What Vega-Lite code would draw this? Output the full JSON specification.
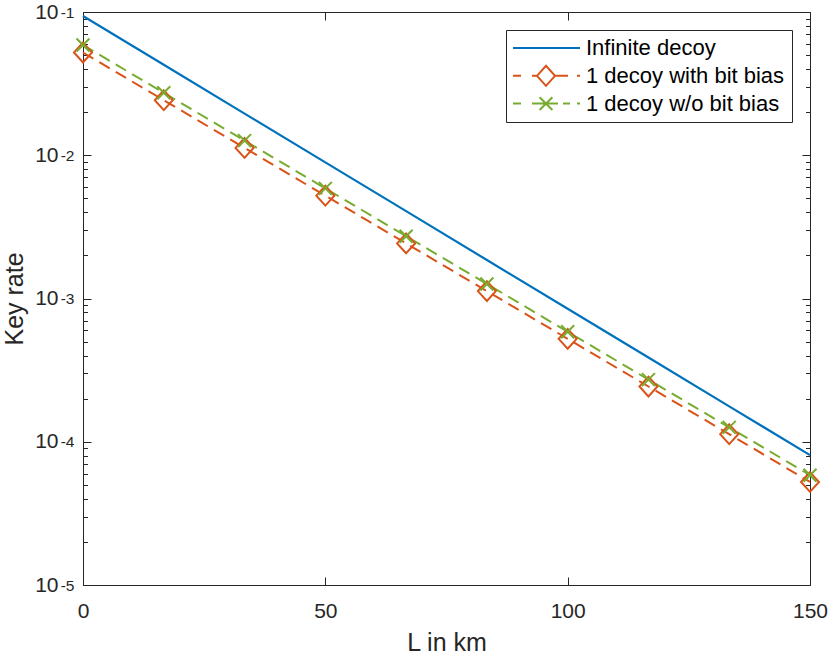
{
  "$schema": "https://vega.github.io/schema/vega-lite/v6.json",
  "width": 727,
  "height": 573,
  "autosize": {"type": "none"},
  "padding": {"left": 83, "top": 12, "right": 20, "bottom": 69},
  "background": "white",
  "config": {
    "font": "Liberation Sans",
    "view": {"stroke": "#262626", "strokeWidth": 1},
    "axis": {"grid": false, "domain": false, "labelColor": "#262626", "titleColor": "#262626", "tickColor": "#262626", "tickWidth": 1, "labelFont": "Liberation Sans", "titleFont": "Liberation Sans", "titleFontWeight": "normal"},
    "legend": {"labelFont": "Liberation Sans", "fillColor": "white", "strokeColor": "#262626", "strokeWidth": 1, "padding": 7, "rowPadding": 2.8,
      "symbolSize": 64, "symbolStrokeWidth": 2, "symbolOffset": 22, "labelOffset": 29, "labelFontSize": 22, "labelColor": "#000000", "labelLimit": 400}
  },
  "data": {
    "values": [
      {"L": 0, "rate": 0.0938, "series": "Infinite decoy"},
      {"L": 16.667, "rate": 0.04279, "series": "Infinite decoy"},
      {"L": 33.333, "rate": 0.01952, "series": "Infinite decoy"},
      {"L": 50, "rate": 0.008922, "series": "Infinite decoy"},
      {"L": 66.667, "rate": 0.004071, "series": "Infinite decoy"},
      {"L": 83.333, "rate": 0.001857, "series": "Infinite decoy"},
      {"L": 100, "rate": 0.000848, "series": "Infinite decoy"},
      {"L": 116.667, "rate": 0.0003873, "series": "Infinite decoy"},
      {"L": 133.333, "rate": 0.0001767, "series": "Infinite decoy"},
      {"L": 150, "rate": 0.0000806, "series": "Infinite decoy"},
      {"L": 0, "rate": 0.05215, "series": "1 decoy with bit bias"},
      {"L": 16.667, "rate": 0.02422, "series": "1 decoy with bit bias"},
      {"L": 33.333, "rate": 0.01125, "series": "1 decoy with bit bias"},
      {"L": 50, "rate": 0.005222, "series": "1 decoy with bit bias"},
      {"L": 66.667, "rate": 0.002425, "series": "1 decoy with bit bias"},
      {"L": 83.333, "rate": 0.001126, "series": "1 decoy with bit bias"},
      {"L": 100, "rate": 0.000523, "series": "1 decoy with bit bias"},
      {"L": 116.667, "rate": 0.000243, "series": "1 decoy with bit bias"},
      {"L": 133.333, "rate": 0.0001129, "series": "1 decoy with bit bias"},
      {"L": 150, "rate": 0.0000524, "series": "1 decoy with bit bias"},
      {"L": 0, "rate": 0.0588, "series": "1 decoy w/o bit bias"},
      {"L": 16.667, "rate": 0.02728, "series": "1 decoy w/o bit bias"},
      {"L": 33.333, "rate": 0.01265, "series": "1 decoy w/o bit bias"},
      {"L": 50, "rate": 0.005871, "series": "1 decoy w/o bit bias"},
      {"L": 66.667, "rate": 0.002723, "series": "1 decoy w/o bit bias"},
      {"L": 83.333, "rate": 0.001263, "series": "1 decoy w/o bit bias"},
      {"L": 100, "rate": 0.000586, "series": "1 decoy w/o bit bias"},
      {"L": 116.667, "rate": 0.0002715, "series": "1 decoy w/o bit bias"},
      {"L": 133.333, "rate": 0.000126, "series": "1 decoy w/o bit bias"},
      {"L": 150, "rate": 0.0000584, "series": "1 decoy w/o bit bias"}
    ]
  },
  "resolve": {"axis": {"x": "independent", "y": "independent"}},
  "layer": [
    {
      "transform": [{"filter": "datum.series === 'Infinite decoy'"}],
      "mark": {"type": "line", "color": "#0072BD", "strokeWidth": 2.2, "strokeCap": "butt"},
      "encoding": {
        "x": {"field": "L", "type": "quantitative", "scale": {"domain": [0, 150], "nice": false, "zero": false},
          "axis": {"orient": "bottom", "title": "L in km", "values": [0, 50, 100, 150], "ticks": false, "labelFontSize": 21, "labelPadding": 15, "labelFlush": false, "labelOverlap": false, "titleFontSize": 25, "titlePadding": 9}},
        "y": {"field": "rate", "type": "quantitative", "scale": {"type": "log", "domain": [0.00001, 0.1], "nice": false},
          "axis": {"orient": "left", "title": "Key rate", "values": [0.00001, 0.0001, 0.001, 0.01, 0.1], "ticks": false, "labelFontSize": 21, "labelPadding": 25, "labelDy": 4.5, "titleFontSize": 25, "titlePadding": 7.5,
            "labelExpr": "'10'"}}
      }
    },
    {
      "transform": [{"filter": "datum.series === '1 decoy with bit bias'"}],
      "mark": {"type": "line", "color": "#D95319", "strokeWidth": 2, "strokeDash": [12, 7], "strokeCap": "butt"},
      "encoding": {
        "x": {"field": "L", "type": "quantitative", "axis": {"orient": "top", "title": null, "values": [0, 50, 100, 150], "labels": false, "tickSize": -8}},
        "y": {"field": "rate", "type": "quantitative", "axis": {"orient": "right", "title": null, "values": [0.00001, 0.0001, 0.001, 0.01, 0.1], "labels": false, "tickSize": -8}}
      }
    },
    {
      "transform": [{"filter": "datum.series === '1 decoy w/o bit bias'"}],
      "mark": {"type": "line", "color": "#77AC30", "strokeWidth": 2, "strokeDash": [12, 7], "strokeCap": "butt"},
      "encoding": {
        "x": {"field": "L", "type": "quantitative", "axis": {"orient": "bottom", "title": null, "values": [0, 50, 100, 150], "labels": false, "tickSize": -8}},
        "y": {"field": "rate", "type": "quantitative", "axis": {"orient": "left", "title": null, "values": [0.00001, 0.0001, 0.001, 0.01, 0.1], "labels": false, "tickSize": -8}}
      }
    },
    {
      "transform": [{"filter": "datum.series === '1 decoy with bit bias'"}],
      "mark": {"type": "point", "shape": "M0,-1.1L1,0L0,1.1L-1,0Z", "size": 324, "filled": false, "color": "#D95319", "strokeWidth": 2, "opacity": 1},
      "encoding": {
        "x": {"field": "L", "type": "quantitative", "axis": null},
        "y": {"field": "rate", "type": "quantitative", "axis": {"orient": "left", "title": null, "labels": false, "tickSize": -4.5,
          "values": [0.00002, 0.00003, 0.00004, 0.00005, 0.00006, 0.00007, 0.00008, 0.00009, 0.0002, 0.0003, 0.0004, 0.0005, 0.0006, 0.0007, 0.0008, 0.0009, 0.002, 0.003, 0.004, 0.005, 0.006, 0.007, 0.008, 0.009, 0.02, 0.03, 0.04, 0.05, 0.06, 0.07, 0.08, 0.09]}}
      }
    },
    {
      "transform": [{"filter": "datum.series === '1 decoy w/o bit bias'"}],
      "mark": {"type": "point", "shape": "M-1,-1L1,1M-1,1L1,-1", "size": 169, "filled": false, "color": "#77AC30", "strokeWidth": 2, "opacity": 1},
      "encoding": {
        "x": {"field": "L", "type": "quantitative", "axis": null},
        "y": {"field": "rate", "type": "quantitative", "axis": {"orient": "right", "title": null, "labels": false, "tickSize": -4.5,
          "values": [0.00002, 0.00003, 0.00004, 0.00005, 0.00006, 0.00007, 0.00008, 0.00009, 0.0002, 0.0003, 0.0004, 0.0005, 0.0006, 0.0007, 0.0008, 0.0009, 0.002, 0.003, 0.004, 0.005, 0.006, 0.007, 0.008, 0.009, 0.02, 0.03, 0.04, 0.05, 0.06, 0.07, 0.08, 0.09]}}
      }
    },
    {
      "transform": [{"filter": "datum.L < 0"}],
      "mark": {"type": "point", "filled": false, "strokeWidth": 2, "opacity": 1},
      "encoding": {
        "x": {"field": "L", "type": "quantitative", "axis": null},
        "y": {"field": "rate", "type": "quantitative", "axis": {"orient": "left", "title": null, "values": [0.00001, 0.0001, 0.001, 0.01, 0.1], "ticks": false, "labelFontSize": 15.5, "labelPadding": 9, "labelDy": -5.5,
          "labelExpr": "datum.value > 0.05 ? '-1' : datum.value > 0.005 ? '-2' : datum.value > 0.0005 ? '-3' : datum.value > 0.00005 ? '-4' : '-5'"}},
        "color": {"field": "series", "type": "nominal",
          "scale": {"domain": ["Infinite decoy", "1 decoy with bit bias", "1 decoy w/o bit bias"], "range": ["#0072BD", "#D95319", "#77AC30"]},
          "legend": {"title": null, "orient": "none", "legendX": 423, "legendY": 18, "direction": "vertical"}},
        "shape": {"field": "series", "type": "nominal",
          "scale": {"domain": ["Infinite decoy", "1 decoy with bit bias", "1 decoy w/o bit bias"],
            "range": ["M-8.25,0H8.5", "M-8.25,0H-6.25M-3.5,0H-2.25L0,-2.5L2.25,0L0,2.5L-2.25,0M2.25,0H5.5M7.75,0H8.5", "M-8.25,0H-6.25M-3.5,0H3M-1.6,-1.6L1.6,1.6M-1.6,1.6L1.6,-1.6M4.25,0H6M7.75,0H8.5"]},
          "legend": {"title": null, "orient": "none", "legendX": 423, "legendY": 18, "direction": "vertical"}}
      }
    }
  ]
}
